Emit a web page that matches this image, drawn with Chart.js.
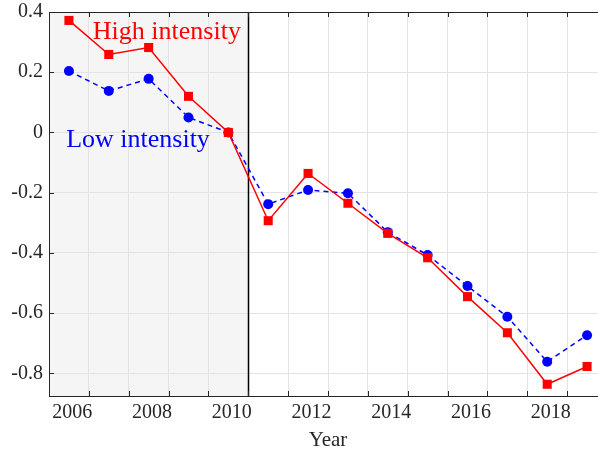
<!DOCTYPE html>
<html>
<head>
<meta charset="utf-8">
<script src="https://cdn.jsdelivr.net/npm/chart.js@4.4.0/dist/chart.umd.min.js"></script>
<style>
body{margin:0;background:#fff;overflow:hidden;}
/* the axis box runs a little past the right edge of the picture, so the canvas is cut */
#wrap{width:598px;height:450px;overflow:hidden;}
</style>
</head>
<body>
<div id="wrap"><canvas id="g_intensity" width="607" height="450"></canvas></div>
<script>
// data
var years = [2006,2007,2008,2009,2010,2011,2012,2013,2014,2015,2016,2017,2018,2019];
var highIntensity = [0.372,0.259,0.282,0.120,0.000,-0.293,-0.136,-0.235,-0.335,-0.416,-0.545,-0.665,-0.836,-0.777];
var lowIntensity  = [0.204,0.138,0.178,0.050,0.000,-0.238,-0.191,-0.202,-0.331,-0.407,-0.510,-0.612,-0.761,-0.673];
var yTicks = [-0.8,-0.6,-0.4,-0.2,0,0.2,0.4];
var xGrid = [2006.5,2007.5,2008.5,2009.5,2010.5,2011.5,2012.5,2013.5,2014.5,2015.5,2016.5,2017.5,2018.5];
var xTickLabels = ['2006','2008','2010','2012','2014','2016','2018'];
var breakYear = 2010.5;

var axisColor = '#262626';
Chart.defaults.font.family = '"Liberation Serif", "Times New Roman", serif';
Chart.defaults.color = axisColor;

function toXY(vals){
    var pts = [];
    for (let i = 0; i < years.length; i++) {
        pts.push({x: years[i], y: vals[i]});
    }
    return pts;
}

// shaded period + break line + box ticks + labels
var decor = {
    id: 'decor',
    beforeDraw: function(chart){
        var c = chart.ctx, a = chart.chartArea, xs = chart.scales.x;
        var xb = xs.getPixelForValue(breakYear);
        c.save();
        c.fillStyle = '#f5f5f5';
        c.fillRect(a.left, a.top, xb - a.left, a.bottom - a.top);
        c.restore();
    },
    beforeDatasetsDraw: function(chart){
        var c = chart.ctx, a = chart.chartArea, xs = chart.scales.x;
        var xb = Math.round(xs.getPixelForValue(breakYear)) + 0.5;
        c.save();
        c.strokeStyle = '#000';
        c.lineWidth = 1.5;
        c.beginPath();
        c.moveTo(xb, a.top);
        c.lineTo(xb, a.bottom);
        c.stroke();
        c.restore();
    },
    afterDatasetsDraw: function(chart){
        var c = chart.ctx, xs = chart.scales.x, ys = chart.scales.y;
        c.save();
        c.font = '26px "Liberation Serif", serif';
        c.textAlign = 'left';
        c.textBaseline = 'alphabetic';
        c.fillStyle = '#ff0000';
        c.fillText('High intensity', xs.getPixelForValue(2006.6), ys.getPixelForValue(0.312));
        c.fillStyle = '#0000ff';
        c.fillText('Low intensity', xs.getPixelForValue(2005.93), ys.getPixelForValue(-0.048));
        c.restore();
    },
    afterDraw: function(chart){
        var c = chart.ctx, a = chart.chartArea, xs = chart.scales.x, ys = chart.scales.y;
        c.save();
        c.strokeStyle = axisColor;
        c.lineWidth = 1;
        c.beginPath();
        c.moveTo(a.left, a.top + 0.5);
        c.lineTo(a.right, a.top + 0.5);
        xGrid.forEach(function(v){
            var px = Math.round(xs.getPixelForValue(v)) + 0.5;
            c.moveTo(px, a.bottom); c.lineTo(px, a.bottom - 5);
            c.moveTo(px, a.top); c.lineTo(px, a.top + 5);
        });
        yTicks.forEach(function(v){
            var py = Math.round(ys.getPixelForValue(v)) + 0.5;
            c.moveTo(a.left, py); c.lineTo(a.left + 5, py);
        });
        c.stroke();
        c.restore();
    }
};

var ctx = document.getElementById('g_intensity');
var chart = new Chart(ctx, {
    type: 'line',
    data: {
        datasets: [{
            label: 'High intensity',
            data: toXY(highIntensity),
            borderColor: '#ff0000',
            backgroundColor: '#ff0000',
            borderWidth: 1.5,
            pointStyle: 'rect',
            pointRadius: 6.4,
            pointHoverRadius: 6.4,
            pointBorderWidth: 0,
            tension: 0
        }, {
            label: 'Low intensity',
            data: toXY(lowIntensity),
            borderColor: '#0000ff',
            backgroundColor: '#0000ff',
            borderWidth: 1.5,
            borderDash: [5, 4],
            pointStyle: 'circle',
            pointRadius: 5,
            pointHoverRadius: 5,
            pointBorderWidth: 0,
            tension: 0
        }]
    },
    options: {
        responsive: false,
        animation: false,
        events: [],
        layout: { autoPadding: false, padding: { top: 12, right: 0, left: 0, bottom: 0 } },
        plugins: { legend: { display: false }, tooltip: { enabled: false } },
        scales: {
            x: {
                type: 'linear',
                min: 2005.5,
                max: 2019.5,
                afterBuildTicks: function(scale){
                    scale.ticks = xGrid.map(function(v){ return {value: v}; });
                },
                afterFit: function(scale){
                    scale.height = 54;
                    scale.paddingLeft = 0;
                    scale.paddingRight = 0;
                },
                ticks: {
                    autoSkip: false,
                    maxRotation: 0,
                    padding: 5,
                    labelOffset: -16.5,
                    font: { size: 20 },
                    color: axisColor,
                    callback: function(v){
                        var lab = String(Math.floor(v));
                        return xTickLabels.indexOf(lab) >= 0 ? lab : '';
                    }
                },
                grid: { color: '#e3e3e3', lineWidth: 1, drawTicks: false },
                border: { display: true, color: axisColor, width: 1 },
                title: {
                    display: true,
                    text: 'Year',
                    font: { size: 21 },
                    color: axisColor,
                    padding: { top: 0, bottom: -3 }
                }
            },
            y: {
                min: -0.875,
                max: 0.4,
                afterBuildTicks: function(scale){
                    scale.ticks = yTicks.map(function(v){ return {value: v}; });
                },
                afterFit: function(scale){
                    scale.width = 49;
                    scale.paddingTop = 0;
                    scale.paddingBottom = 0;
                },
                ticks: {
                    padding: 6,
                    font: { size: 20 },
                    color: axisColor,
                    callback: function(v){
                        return Math.abs(v) < 1e-9 ? '0' : v.toFixed(1);
                    }
                },
                grid: { color: '#e3e3e3', lineWidth: 1, drawTicks: false },
                border: { display: true, color: axisColor, width: 1 }
            }
        }
    },
    plugins: [decor]
});
</script>
</body>
</html>
